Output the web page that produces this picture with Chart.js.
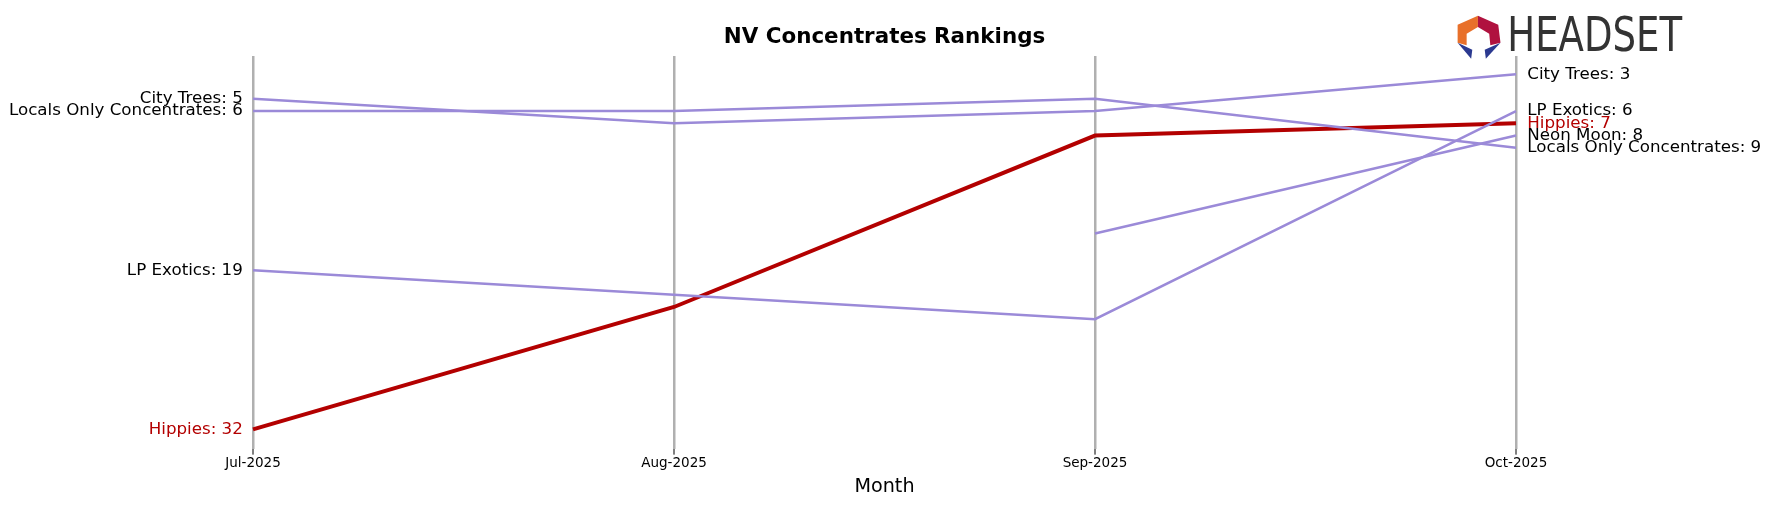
<!DOCTYPE html>
<html><head><meta charset="utf-8">
<script src="https://cdn.jsdelivr.net/npm/chart.js@4"></script>
<style>body{margin:0;background:#fff}#w{width:1769px;height:507px}</style>
</head><body><div id="w"><canvas id="c"></canvas></div>
<script>
const months = ["Jul-2025","Aug-2025","Sep-2025","Oct-2025"];
const cityTrees = [5,7,6,3];
const localsOnly = [6,6,5,9];
const lpExotics = [19,21,23,6];
const neonMoon = [null,null,16,8];
const hippies = [32,22,8,7];
const purple = "#9b8ad8", red = "#b30000";
const series = [
 {label:"City Trees", data:cityTrees, color:purple, w:2.5},
 {label:"Locals Only Concentrates", data:localsOnly, color:purple, w:2.5},
 {label:"LP Exotics", data:lpExotics, color:purple, w:2.5},
 {label:"Neon Moon", data:neonMoon, color:purple, w:2.5},
 {label:"Hippies", data:hippies, color:red, w:4}
];
const S = 1769/1568;
const font = "'DejaVu Sans', sans-serif";
const labelPlugin = {
 id:"labels",
 afterDatasetsDraw(chart){
  const {ctx, scales:{x,y}, chartArea:a} = chart;
  ctx.save();
  ctx.font = (14.8*S)+"px "+font; ctx.textBaseline="middle";
  series.forEach(s=>{
   const first = s.data.findIndex(v=>v!==null);
   if(first===0){ctx.fillStyle = s.color===red?red:"#000";ctx.textAlign="right";
     ctx.fillText(s.label+": "+s.data[0], x.getPixelForValue(0)-9*S, y.getPixelForValue(s.data[0]));}
   const l = s.data[s.data.length-1];
   ctx.fillStyle = s.color===red?red:"#000";ctx.textAlign="left";
   ctx.fillText(s.label+": "+l, x.getPixelForValue(3)+10*S, y.getPixelForValue(l));
  });
  ctx.fillStyle="#000";ctx.font=(12*S)+"px "+font;ctx.textAlign="center";ctx.textBaseline="top";
  months.forEach((m,i)=>{const px=x.getPixelForValue(i);
    ctx.strokeStyle="#000";ctx.lineWidth=1;ctx.beginPath();ctx.moveTo(px,a.bottom);ctx.lineTo(px,a.bottom+5*S);ctx.stroke();
    ctx.fillText(m,px,405*S);});
  ctx.font=(17*S)+"px "+font;ctx.fillText("Month",784*S,423*S);
  ctx.font="bold "+(19*S)+"px "+font;ctx.textBaseline="middle";ctx.fillText("NV Concentrates Rankings",784*S,33*S);
  ctx.scale(S,S);
  ctx.fillStyle="#e8702a";ctx.beginPath();ctx.moveTo(1292,22);ctx.lineTo(1310,14);ctx.lineTo(1310,24);ctx.lineTo(1300,30);ctx.lineTo(1300,40);ctx.lineTo(1292,38);ctx.fill();
  ctx.fillStyle="#b0123f";ctx.beginPath();ctx.moveTo(1310,14);ctx.lineTo(1328,22);ctx.lineTo(1330,38);ctx.lineTo(1321,40);ctx.lineTo(1320,30);ctx.lineTo(1310,24);ctx.fill();
  ctx.fillStyle="#2b3990";ctx.beginPath();ctx.moveTo(1292,38);ctx.lineTo(1305,44);ctx.lineTo(1304,52);ctx.fill();
  ctx.beginPath();ctx.moveTo(1330,38);ctx.lineTo(1316,44);ctx.lineTo(1317,52);ctx.fill();
  ctx.fillStyle="#333";ctx.font="42px 'Liberation Sans Narrow','DejaVu Sans Condensed',sans-serif";ctx.textAlign="left";
  ctx.translate(1336,34);ctx.scale(0.87,1);ctx.fillText("HEADSET",0,0);
  ctx.restore();
 }
};
new Chart(document.getElementById("c"),{
 type:"line",
 data:{labels:months,datasets:series.map(s=>({label:s.label,data:s.data,borderColor:s.color,borderWidth:s.w,pointRadius:0,fill:false,tension:0,spanGaps:false}))},
 options:{responsive:true,maintainAspectRatio:false,animation:false,
  layout:{padding:{left:Math.round(224*S),right:1769-Math.round(1344*S),top:Math.round(50*S),bottom:507-Math.round(398*S)}},
  plugins:{legend:{display:false},tooltip:{enabled:false}},
  scales:{
   x:{offset:false,grid:{color:"#b0b0b0",lineWidth:2.5,drawTicks:false},border:{display:false},ticks:{display:false}},
   y:{reverse:true,min:1.5,max:33.6,display:false}
  }},
 plugins:[labelPlugin]
});
</script></body></html>
